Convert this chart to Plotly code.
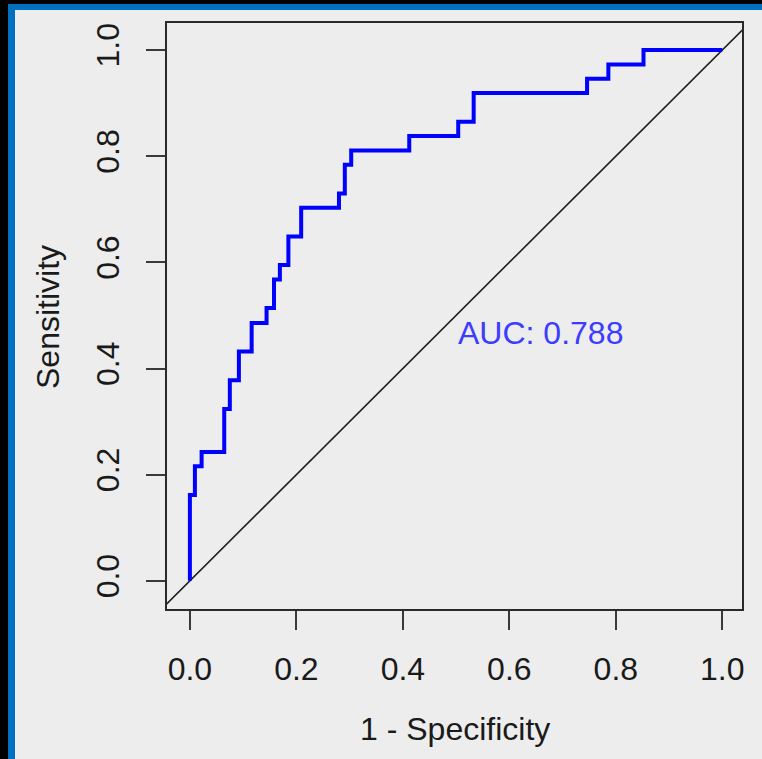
import plotly.graph_objects as go

# ---- data ----
fpr = [0.0, 0.0094, 0.022, 0.0645, 0.075, 0.092, 0.116, 0.144, 0.158, 0.169, 0.185,
       0.209, 0.280, 0.291, 0.303, 0.412, 0.504, 0.533, 0.746, 0.786, 0.852, 1.0]
tpr = [0.0, 0.162, 0.216, 0.243, 0.324, 0.378, 0.432, 0.486, 0.514, 0.568, 0.595,
       0.649, 0.703, 0.730, 0.784, 0.811, 0.838, 0.865, 0.919, 0.946, 0.973, 1.0]
diag = [-0.2, 1.2]
tick_vals = [0.0, 0.2, 0.4, 0.6, 0.8, 1.0]
tick_text = ["0.0", "0.2", "0.4", "0.6", "0.8", "1.0"]
auc_label = "AUC: 0.788"
auc_pos = (0.5, 0.467)
x_title = "1 - Specificity"
y_title = "Sensitivity"

# ---- layout geometry (pixels) ----
W, H = 762, 759
L, R, T, B = 167, 742, 23, 609
PW, PH = R - L, B - T

def px(xp):
    return (xp - L) / PW

def py(yp):
    return (B - yp) / PH

BG = "#EDEDED"
FONT = "Liberation Sans, Arial, sans-serif"

fig = go.Figure()
fig.add_trace(go.Scatter(x=diag, y=diag, mode="lines",
                         line=dict(color="#1e1e1e", width=1.6),
                         hoverinfo="skip", showlegend=False))
fig.add_trace(go.Scatter(x=fpr, y=tpr, mode="lines",
                         line=dict(color="#0000FF", width=4, shape="vh"),
                         showlegend=False))

axis_common = dict(
    tickvals=tick_vals, ticktext=tick_text,
    ticks="outside", ticklen=19, tickwidth=1.6, tickcolor="#3a3a3a",
    showline=True, mirror=True, linecolor="#2a2a2a", linewidth=1.5,
    showgrid=False, zeroline=False,
    tickfont=dict(family=FONT, size=32, color="#1a1a1a"),
)
fig.update_xaxes(range=[-0.043, 1.037], ticklabelstandoff=12, **axis_common)
fig.update_yaxes(range=[-0.053, 1.051], tickangle=-90, ticklabelstandoff=14,
                 **axis_common)

shapes = []
# blue frame bands (left and top)
shapes.append(dict(type="rect", xref="paper", yref="paper", layer="above",
                   x0=px(8), x1=px(15), y0=py(759), y1=py(4),
                   fillcolor="#0070C0", line=dict(width=0)))
shapes.append(dict(type="rect", xref="paper", yref="paper", layer="above",
                   x0=px(8), x1=px(762), y0=py(10), y1=py(4),
                   fillcolor="#0070C0", line=dict(width=0)))
# black outer bands
shapes.append(dict(type="rect", xref="paper", yref="paper", layer="above",
                   x0=px(0), x1=px(8), y0=py(759), y1=py(0),
                   fillcolor="#000000", line=dict(width=0)))
shapes.append(dict(type="rect", xref="paper", yref="paper", layer="above",
                   x0=px(0), x1=px(762), y0=py(4), y1=py(0),
                   fillcolor="#000000", line=dict(width=0)))

annotations = [
    dict(text=auc_label, x=auc_pos[0], y=auc_pos[1], xref="x", yref="y",
         xanchor="left", yanchor="middle", showarrow=False,
         font=dict(family=FONT, size=32, color="#3C3CFF")),
    dict(text=x_title, x=px(455), y=py(729), xref="paper", yref="paper",
         xanchor="center", yanchor="middle", showarrow=False,
         font=dict(family=FONT, size=32, color="#1a1a1a")),
    dict(text=y_title, x=px(48), y=py(317), xref="paper", yref="paper",
         xanchor="center", yanchor="middle", showarrow=False, textangle=-90,
         font=dict(family=FONT, size=32, color="#1a1a1a")),
]

fig.update_layout(
    width=W, height=H,
    margin=dict(l=L, r=W - R, t=T, b=H - B, pad=0),
    paper_bgcolor=BG, plot_bgcolor=BG,
    shapes=shapes, annotations=annotations,
    showlegend=False,
)

fig.write_html(
    "out.html",
    config={"displayModeBar": False},
    post_script="document.body.style.margin='0px';document.body.style.overflow='hidden';",
)
